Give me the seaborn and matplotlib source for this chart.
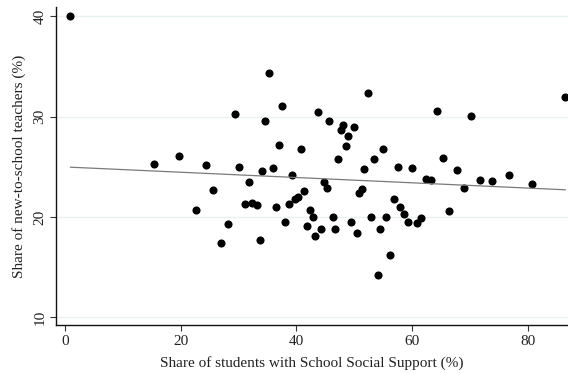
import numpy as np
import pandas as pd
import matplotlib
matplotlib.use("Agg")
import matplotlib.pyplot as plt
import seaborn as sns

# Share of students with School Social Support (%) per school
support_share = [
    0.92, 15.35, 19.72, 24.45, 30.10, 25.66, 22.72, 28.15, 26.93, 35.24,
    52.42, 29.35, 37.54, 43.83, 34.66, 45.73, 48.15, 47.80, 49.95, 49.00,
    48.55, 36.97, 40.78, 47.23, 53.46, 51.78, 54.96, 34.03, 35.93, 39.22,
    31.83, 44.78, 45.33, 41.30, 40.26, 39.85, 38.70, 36.45, 51.33, 50.87,
    31.09, 32.41, 33.16, 42.44, 42.90, 46.37, 49.53, 52.94, 38.11, 41.87,
    44.35, 46.77, 54.45, 43.31, 50.46, 33.68, 56.23, 54.20, 55.60, 56.95,
    58.00, 58.70, 59.40, 60.84, 61.60, 66.44, 64.30, 70.30, 86.56, 65.34,
    57.67, 60.09, 67.88, 62.40, 63.37, 69.08, 71.80, 73.87, 76.76, 80.80,
]

# Share of new-to-school teachers (%) per school
new_teacher_share = [
    40.00, 25.29, 26.05, 25.16, 24.96, 22.67, 20.74, 19.31, 17.42, 34.35,
    32.33, 30.30, 31.04, 30.50, 29.54, 29.54, 29.14, 28.67, 29.00, 28.10,
    27.08, 27.21, 26.78, 25.76, 25.82, 24.76, 26.81, 24.59, 24.89, 24.22,
    23.50, 23.50, 22.90, 22.57, 22.00, 21.77, 21.27, 21.00, 22.80, 22.43,
    21.27, 21.37, 21.17, 20.71, 20.01, 19.98, 19.54, 19.98, 19.48, 19.14,
    18.79, 18.79, 18.82, 18.15, 18.39, 17.75, 16.20, 14.23, 19.96, 21.80,
    21.04, 20.28, 19.54, 19.38, 19.91, 20.64, 30.60, 30.07, 31.99, 25.89,
    25.02, 24.86, 24.66, 23.80, 23.70, 22.90, 23.70, 23.63, 24.22, 23.27,
]

x_ticks = [0, 20, 40, 60, 80]
y_ticks = [10, 20, 30, 40]

df = pd.DataFrame({"support": support_share, "new_teachers": new_teacher_share})

sns.set_theme(style="white")
plt.rcParams["font.family"] = ["Liberation Serif", "DejaVu Serif"]

fig = plt.figure(figsize=(5.68, 3.73), dpi=100)
ax = fig.add_axes([56 / 568, 48 / 373, 512 / 568, 318 / 373])

for yv in y_ticks:
    ax.axhline(yv, color="#eaf1f2", lw=1.0, zorder=0)

sns.regplot(
    data=df, x="support", y="new_teachers", ax=ax, ci=None,
    scatter_kws=dict(s=34, color="black", linewidths=0, alpha=1, zorder=3),
    line_kws=dict(color="#7a7a7a", lw=0.9, zorder=4),
)

ax.set_xlim(-1.56, 87.0)
ax.set_ylim(9.25, 40.93)
ax.set_xticks(x_ticks)
ax.set_yticks(y_ticks)
ax.set_xticklabels([str(v) for v in x_ticks], fontsize=11, color="#222222")
ax.set_yticklabels([str(v) for v in y_ticks], fontsize=11, color="#222222",
                   rotation=90, va="center")
ax.tick_params(axis="both", direction="out", length=4, width=0.8,
               color="#333333", pad=3, left=True, bottom=True)

for side in ["top", "right"]:
    ax.spines[side].set_visible(False)
for side in ["left", "bottom"]:
    ax.spines[side].set_color("#111111")
    ax.spines[side].set_linewidth(1.0)

ax.set_xlabel("Share of students with School Social Support (%)",
              fontsize=11, color="#222222", labelpad=6)
ax.set_ylabel("Share of new-to-school teachers (%)",
              fontsize=11, color="#222222", labelpad=5)

fig.savefig("out.png", dpi=100)
